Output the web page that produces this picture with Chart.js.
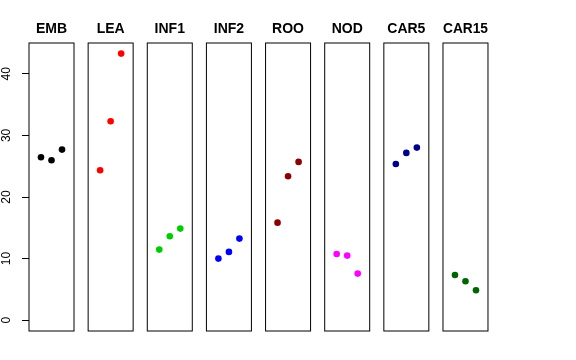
<!DOCTYPE html>
<html lang="en">
<head>
    <meta charset="UTF-8">
    <title>Panels</title>
    <script src="https://cdn.jsdelivr.net/npm/chart.js"></script>
    <style>
        body {
            margin: 0;
            background: #fff;
        }

        #wrap {
            position: relative;
            width: 576px;
            height: 360px;
        }

        #wrap canvas {
            position: absolute;
            left: 0;
            top: 0;
        }
    </style>
</head>
<body>

    <div id="wrap"></div>

    <script>
        const categories = ['EMB', 'LEA', 'INF1', 'INF2', 'ROO', 'NOD', 'CAR5', 'CAR15'];
        const embValues = [26.46, 25.97, 27.7];
        const leaValues = [24.35, 32.3, 43.28];
        const inf1Values = [11.46, 13.64, 14.87];
        const inf2Values = [10.0, 11.09, 13.25];
        const rooValues = [15.84, 23.38, 25.7];
        const nodValues = [10.76, 10.49, 7.57];
        const car5Values = [25.37, 27.16, 28.02];
        const car15Values = [7.35, 6.33, 4.87];
        const xPositions = [1, 2, 3];
        const yTicks = [0, 10, 20, 30, 40];
        const pointColors = ['#000000', '#FF0000', '#00CD00', '#0000FF', '#8B0000', '#FF00FF', '#00008B', '#006400'];

        const seriesValues = [embValues, leaValues, inf1Values, inf2Values, rooValues, nodValues, car5Values, car15Values];

        // panel layout in the 576x360 window
        const firstLeft = 29;
        const panelStep = 59.14;
        const panelWidth = 45;
        const plotBottom = 331;
        const fontFamily = '"Liberation Sans", Arial, Helvetica, sans-serif';

        const boxPlugin = {
            id: 'panelBox',
            beforeDatasetsDraw(chart) {
                const a = chart.chartArea;
                const ctx = chart.ctx;
                ctx.save();
                ctx.strokeStyle = '#000';
                ctx.lineWidth = 1;
                ctx.strokeRect(a.left, a.top, a.right - a.left, a.bottom - a.top);
                ctx.restore();
            }
        };

        const wrap = document.getElementById('wrap');

        categories.forEach((name, i) => {
            const canvas = document.createElement('canvas');
            canvas.width = 576;
            canvas.height = 360;
            wrap.appendChild(canvas);

            const left = firstLeft + i * panelStep;
            const values = seriesValues[i];

            new Chart(canvas.getContext('2d'), {
                type: 'scatter',
                data: {
                    datasets: [{
                        label: name,
                        data: xPositions.map((x, j) => ({ x: x, y: values[j] })),
                        backgroundColor: pointColors[i],
                        borderWidth: 0,
                        pointRadius: 3.3,
                        pointHoverRadius: 3.3
                    }]
                },
                plugins: [boxPlugin],
                options: {
                    responsive: false,
                    animation: false,
                    layout: {
                        padding: {
                            left: i === 0 ? 0 : left,
                            right: 576 - (left + panelWidth),
                            top: 0,
                            bottom: 360 - plotBottom
                        }
                    },
                    plugins: {
                        legend: { display: false },
                        tooltip: { enabled: false },
                        title: {
                            display: true,
                            text: name,
                            fullSize: false,
                            color: '#000',
                            font: { family: fontFamily, size: 14, weight: 'bold' },
                            padding: { top: 20.9, bottom: 5.3 }
                        }
                    },
                    scales: {
                        x: {
                            type: 'linear',
                            min: -0.14,
                            max: 4.14,
                            display: false
                        },
                        y: {
                            type: 'linear',
                            min: -1.75,
                            max: 45,
                            display: i === 0,
                            afterBuildTicks: s => { s.ticks = yTicks.map(v => ({ value: v })); },
                            afterFit: s => { if (i === 0) s.width = firstLeft; },
                            border: { display: false },
                            grid: {
                                drawOnChartArea: false,
                                drawTicks: true,
                                tickLength: 7,
                                color: '#000'
                            },
                            ticks: {
                                minRotation: 90,
                                maxRotation: 90,
                                crossAlign: 'center',
                                padding: 9,
                                color: '#000',
                                font: { family: fontFamily, size: 12 }
                            }
                        }
                    }
                }
            });
        });
    </script>

</body>
</html>
